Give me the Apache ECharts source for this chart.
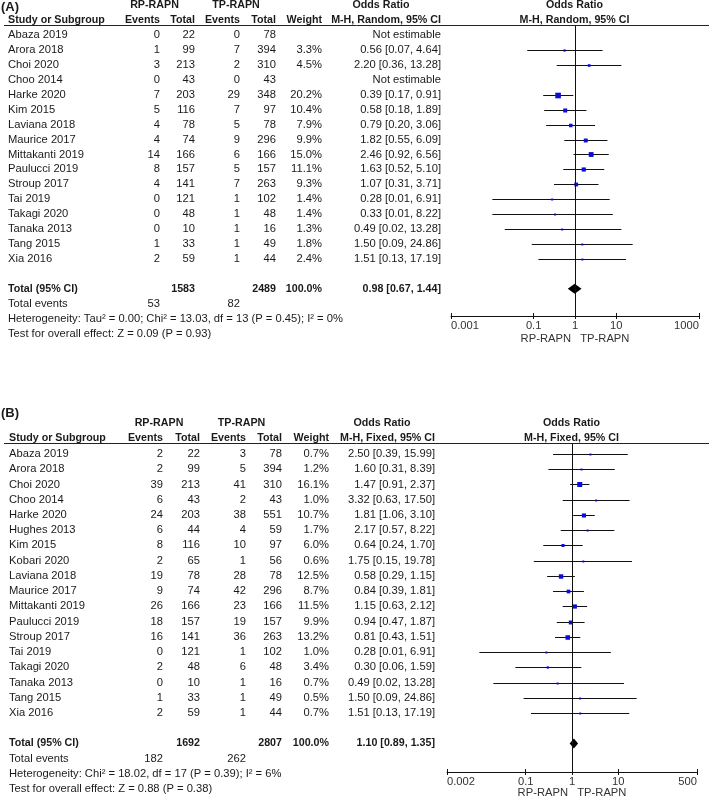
<!DOCTYPE html>
<html>
<head>
<meta charset="UTF-8">
<script src="https://cdn.jsdelivr.net/npm/echarts@6/dist/echarts.min.js"></script>
<style>html,body{margin:0;background:#fff}#chart{width:709px;height:801px}</style>
</head>
<body>
<div id="chart"></div>
<script>
// ---- panel A (random effects) ----
var studiesA = ['Abaza 2019','Arora 2018','Choi 2020','Choo 2014','Harke 2020','Kim 2015','Laviana 2018','Maurice 2017','Mittakanti 2019','Paulucci 2019','Stroup 2017','Tai 2019','Takagi 2020','Tanaka 2013','Tang 2015','Xia 2016'];
var rpEventsA = [0,1,3,0,7,5,4,4,14,8,4,0,0,0,1,2];
var rpTotalA  = [22,99,213,43,203,116,78,74,166,157,141,121,48,10,33,59];
var tpEventsA = [0,7,2,0,29,7,5,9,6,5,7,1,1,1,1,1];
var tpTotalA  = [78,394,310,43,348,97,78,296,166,157,263,102,48,16,49,44];
var weightA   = [null,3.3,4.5,null,20.2,10.4,7.9,9.9,15.0,11.1,9.3,1.4,1.4,1.3,1.8,2.4];
var orA = [null,0.56,2.20,null,0.39,0.58,0.79,1.82,2.46,1.63,1.07,0.28,0.33,0.49,1.50,1.51];
var loA = [null,0.07,0.36,null,0.17,0.18,0.20,0.55,0.92,0.52,0.31,0.01,0.01,0.02,0.09,0.13];
var hiA = [null,4.64,13.28,null,0.91,1.89,3.06,6.09,6.56,5.10,3.71,6.91,8.22,13.28,24.86,17.19];
var totalsA = [1583, 2489];
var totalEventsA = [53, 82];
var pooledA = [0.98, 0.67, 1.44];
var hetA = 'Heterogeneity: Tau\u00b2 = 0.00; Chi\u00b2 = 13.03, df = 13 (P = 0.45); I\u00b2 = 0%';
var testA = 'Test for overall effect: Z = 0.09 (P = 0.93)';
var ticksA = [0.001, 0.1, 1, 10, 1000];

// ---- panel B (fixed effects) ----
var studiesB = ['Abaza 2019','Arora 2018','Choi 2020','Choo 2014','Harke 2020','Hughes 2013','Kim 2015','Kobari 2020','Laviana 2018','Maurice 2017','Mittakanti 2019','Paulucci 2019','Stroup 2017','Tai 2019','Takagi 2020','Tanaka 2013','Tang 2015','Xia 2016'];
var rpEventsB = [2,2,39,6,24,6,8,2,19,9,26,18,16,0,2,0,1,2];
var rpTotalB  = [22,99,213,43,203,44,116,65,78,74,166,157,141,121,48,10,33,59];
var tpEventsB = [3,5,41,2,38,4,10,1,28,42,23,19,36,1,6,1,1,1];
var tpTotalB  = [78,394,310,43,551,59,97,56,78,296,166,157,263,102,48,16,49,44];
var weightB   = [0.7,1.2,16.1,1.0,10.7,1.7,6.0,0.6,12.5,8.7,11.5,9.9,13.2,1.0,3.4,0.7,0.5,0.7];
var orB = [2.50,1.60,1.47,3.32,1.81,2.17,0.64,1.75,0.58,0.84,1.15,0.94,0.81,0.28,0.30,0.49,1.50,1.51];
var loB = [0.39,0.31,0.91,0.63,1.06,0.57,0.24,0.15,0.29,0.39,0.63,0.47,0.43,0.01,0.06,0.02,0.09,0.13];
var hiB = [15.99,8.39,2.37,17.50,3.10,8.22,1.70,19.78,1.15,1.81,2.12,1.87,1.51,6.91,1.59,13.28,24.86,17.19];
var totalsB = [1692, 2807];
var totalEventsB = [182, 262];
var pooledB = [1.10, 0.89, 1.35];
var hetB = 'Heterogeneity: Chi\u00b2 = 18.02, df = 17 (P = 0.39); I\u00b2 = 6%';
var testB = 'Test for overall effect: Z = 0.88 (P = 0.38)';
var ticksB = [0.002, 0.1, 1, 10, 500];

var FONT = '"Liberation Sans", Arial, sans-serif';
var FS = 11.2;     // regular text
var FSB = 10.7;    // bold header text
var INK = '#1a1a1a';
var BLUE = '#0b0bdc';

function f2(v){ return v.toFixed(2); }
function ciText(or, lo, hi){
  return or == null ? 'Not estimable' : f2(or) + ' [' + f2(lo) + ', ' + f2(hi) + ']';
}
function cell(text, x, align, bold){ return {text: String(text), x: x, align: align, bold: !!bold}; }

// rows of table text, y is a row index on the panel's y axis
function buildRows(d, c){
  var rows = [];
  for (var i = 0; i < d.studies.length; i++) {
    rows.push({y: i, cells: [
      cell(d.studies[i], c.name, 'left'),
      cell(d.rpE[i], c.rpE, 'right'),
      cell(d.rpT[i], c.rpT, 'right'),
      cell(d.tpE[i], c.tpE, 'right'),
      cell(d.tpT[i], c.tpT, 'right'),
      cell(d.w[i] == null ? '' : d.w[i].toFixed(1) + '%', c.w, 'right'),
      cell(ciText(d.or[i], d.lo[i], d.hi[i]), c.ci, 'right')
    ]});
  }
  var t = d.totalRow;
  rows.push({y: t, cells: [
    cell('Total (95% CI)', c.name, 'left', true),
    cell(d.totals[0], c.rpT, 'right', true),
    cell(d.totals[1], c.tpT, 'right', true),
    cell('100.0%', c.w, 'right', true),
    cell(ciText(d.pooled[0], d.pooled[1], d.pooled[2]), c.ci, 'right', true)
  ]});
  rows.push({y: t + 1, cells: [
    cell('Total events', c.name, 'left'),
    cell(d.events[0], c.rpE, 'right'),
    cell(d.events[1], c.tpE, 'right')
  ]});
  rows.push({y: t + 2, cells: [cell(d.het, c.name, 'left')]});
  rows.push({y: t + 3, cells: [cell(d.test, c.name, 'left')]});
  return rows;
}

function tableSeries(idx, rows){
  return {
    type: 'custom', xAxisIndex: idx * 2, yAxisIndex: idx, silent: true, clip: false,
    data: rows.map(function(r){ return [1, r.y]; }),
    encode: {x: 0, y: 1},
    renderItem: function(params, api){
      var r = rows[params.dataIndex];
      var y = api.coord([1, api.value(1)])[1];
      return {type: 'group', children: r.cells.map(function(c){
        return {type: 'text', x: c.x, y: y, style: {
          text: c.text, align: c.align, textAlign: c.align,
          verticalAlign: 'middle', textVerticalAlign: 'middle',
          font: (c.bold ? 'bold ' + FSB : FS) + 'px ' + FONT, fill: INK
        }};
      })};
    }
  };
}

function ciSeries(idx, or, lo, hi, w){
  var data = [];
  for (var i = 0; i < or.length; i++) if (or[i] != null) data.push([or[i], lo[i], hi[i], i, w[i]]);
  return {
    type: 'custom', xAxisIndex: idx * 2, yAxisIndex: idx, silent: true, clip: false,
    data: data, encode: {x: [0, 1, 2], y: 3},
    renderItem: function(params, api){
      var row = api.value(3);
      var p = api.coord([api.value(0), row]);
      var a = api.coord([api.value(1), row]);
      var b = api.coord([api.value(2), row]);
      var y = Math.round(p[1]) + 0.5;
      var s = Math.max(2, 1.25 * Math.sqrt(api.value(4)));
      return {type: 'group', children: [
        {type: 'line', shape: {x1: a[0], y1: y, x2: b[0], y2: y}, style: {stroke: '#111', lineWidth: 1}},
        {type: 'rect', shape: {x: p[0] - s / 2, y: y - s / 2, width: s, height: s}, style: {fill: BLUE}}
      ]};
    },
    markLine: {
      silent: true, symbol: ['none', 'none'], label: {show: false},
      lineStyle: {color: '#111', width: 1, type: 'solid'},
      data: [{xAxis: 1}]
    }
  };
}

function diamondSeries(idx, pooled, row){
  return {
    type: 'custom', xAxisIndex: idx * 2, yAxisIndex: idx, silent: true, clip: false,
    data: [[pooled[0], pooled[1], pooled[2], row]], encode: {x: [0, 1, 2], y: 3},
    renderItem: function(params, api){
      var r = api.value(3);
      var c = api.coord([api.value(0), r]);
      var a = api.coord([api.value(1), r]);
      var b = api.coord([api.value(2), r]);
      return {type: 'polygon', shape: {points: [[a[0], c[1]], [c[0], c[1] - 5], [b[0], c[1]], [c[0], c[1] + 5]]},
        style: {fill: '#000'}};
    }
  };
}

// main axis (line, outward ticks, labels) plus a twin axis carrying inward ticks
function xAxesFor(idx, ticks, gap){
  var base = {
    type: 'log', logBase: 10, gridIndex: idx, position: 'bottom',
    min: ticks[0], max: ticks[ticks.length - 1],
    minorTick: {show: false}, splitLine: {show: false}
  };
  var main = Object.assign({}, base, {
    name: 'RP-RAPN   TP-RAPN', nameLocation: 'middle', nameGap: gap,
    nameTextStyle: {color: '#333', fontSize: FS, fontFamily: FONT},
    axisLine: {onZero: false, lineStyle: {color: '#111', width: 1}},
    axisTick: {customValues: ticks, length: 3, lineStyle: {color: '#111'}},
    axisLabel: {customValues: ticks, margin: 4, color: '#333', fontSize: FS, fontFamily: FONT,
      alignMinLabel: 'left', alignMaxLabel: 'right',
      formatter: function(v){ return String(+(+v).toPrecision(3)); }}
  });
  var twin = Object.assign({}, base, {
    axisLine: {show: false, onZero: false},
    axisTick: {customValues: ticks, inside: true, length: 3, lineStyle: {color: '#111'}},
    axisLabel: {show: false}
  });
  return [main, twin];
}

function hdr(text, x, y, align, size){
  return {type: 'text', x: x, y: y, silent: true, style: {
    text: text, align: align, textAlign: align, verticalAlign: 'middle', textVerticalAlign: 'middle',
    font: 'bold ' + (size || FSB) + 'px ' + FONT, fill: INK
  }};
}
function rule(y){
  return {type: 'line', silent: true, shape: {x1: 4, y1: y, x2: 709, y2: y}, style: {stroke: '#222', lineWidth: 1}};
}

var colsA = {name: 8, rpE: 160, rpT: 195, tpE: 240, tpT: 276, w: 322, ci: 441};
var colsB = {name: 9, rpE: 163, rpT: 200, tpE: 246, tpT: 282, w: 329, ci: 435};

var rowsA = buildRows({studies: studiesA, rpE: rpEventsA, rpT: rpTotalA, tpE: tpEventsA, tpT: tpTotalA,
  w: weightA, or: orA, lo: loA, hi: hiA, totalRow: 17, totals: totalsA, events: totalEventsA,
  pooled: pooledA, het: hetA, test: testA}, colsA);
var rowsB = buildRows({studies: studiesB, rpE: rpEventsB, rpT: rpTotalB, tpE: tpEventsB, tpT: tpTotalB,
  w: weightB, or: orB, lo: loB, hi: hiB, totalRow: 19, totals: totalsB, events: totalEventsB,
  pooled: pooledB, het: hetB, test: testB}, colsB);

var chart = echarts.init(document.getElementById('chart'));
var option = {
  backgroundColor: '#fff',
  animation: false,
  grid: [
    {left: 451, width: 248, top: 25.5, height: 290.5, outerBoundsMode: 'none'},
    {left: 447, width: 250, top: 443, height: 329, outerBoundsMode: 'none'}
  ],
  xAxis: xAxesFor(0, ticksA, 17).concat(xAxesFor(1, ticksB, 14)),
  yAxis: [
    {type: 'value', gridIndex: 0, inverse: true, min: -0.64, max: 18.82, show: false},
    {type: 'value', gridIndex: 1, inverse: true, min: -0.72, max: 20.87, show: false}
  ],
  graphic: [
    hdr('(A)', 1, 7, 'left', 13),
    hdr('RP-RAPN', 154.5, 5, 'center'),
    hdr('TP-RAPN', 236, 5, 'center'),
    hdr('Odds Ratio', 381, 5, 'center'),
    hdr('Odds Ratio', 574.5, 5, 'center'),
    hdr('Study or Subgroup', 8, 20, 'left'),
    hdr('Events', 160, 20, 'right'),
    hdr('Total', 195, 20, 'right'),
    hdr('Events', 240, 20, 'right'),
    hdr('Total', 276, 20, 'right'),
    hdr('Weight', 322, 20, 'right'),
    hdr('M-H, Random, 95% CI', 441, 20, 'right'),
    hdr('M-H, Random, 95% CI', 574.5, 20, 'center'),
    rule(25.5),
    hdr('(B)', 1, 413, 'left', 13),
    hdr('RP-RAPN', 159, 423, 'center'),
    hdr('TP-RAPN', 241.5, 423, 'center'),
    hdr('Odds Ratio', 382, 423, 'center'),
    hdr('Odds Ratio', 571.5, 423, 'center'),
    hdr('Study or Subgroup', 9, 438, 'left'),
    hdr('Events', 163, 438, 'right'),
    hdr('Total', 200, 438, 'right'),
    hdr('Events', 246, 438, 'right'),
    hdr('Total', 282, 438, 'right'),
    hdr('Weight', 329, 438, 'right'),
    hdr('M-H, Fixed, 95% CI', 435, 438, 'right'),
    hdr('M-H, Fixed, 95% CI', 571.5, 438, 'center'),
    rule(443.5)
  ],
  series: [
    tableSeries(0, rowsA),
    ciSeries(0, orA, loA, hiA, weightA),
    diamondSeries(0, pooledA, 17),
    tableSeries(1, rowsB),
    ciSeries(1, orB, loB, hiB, weightB),
    diamondSeries(1, pooledB, 19)
  ]
};
chart.setOption(option);
</script>
</body>
</html>
